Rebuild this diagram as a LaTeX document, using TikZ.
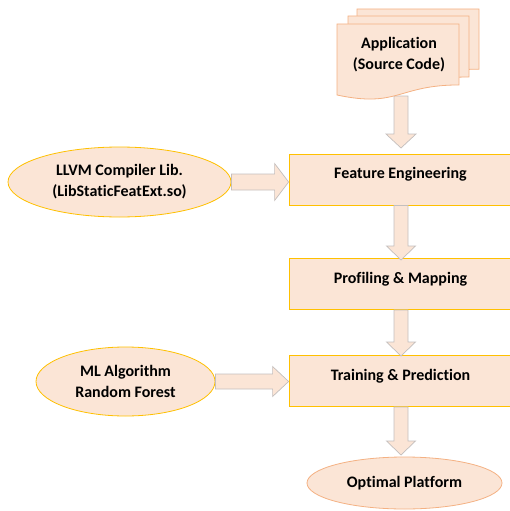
\documentclass[tikz,border=0pt]{standalone}
\usepackage{fontspec}
\setmainfont[Ligatures=NoCommon]{Carlito}
\usetikzlibrary{calc,shapes.geometric}

\definecolor{peach}{HTML}{FBE5D6}
\definecolor{gold}{HTML}{FFC000}
\definecolor{coral}{HTML}{F4B183}
\definecolor{arrowedge}{HTML}{C4BFBD}

% vertical block arrow: from, to, shaft half width, head half width, head length, gap before target
\newcommand\vblk[6]{%
  \path[blk] let \p1=(#1), \p2=(#2) in
    (\x2-#3,\y1) -- (\x2+#3,\y1) -- (\x2+#3,\y2+#6+#5) -- (\x2+#4,\y2+#6+#5)
    -- (\x2,\y2+#6) -- (\x2-#4,\y2+#6+#5) -- (\x2-#3,\y2+#6+#5) -- cycle;}
% horizontal block arrow: from, to, shaft half width, head half width, head length
\newcommand\hblk[5]{%
  \path[blk] let \p1=(#1), \p2=(#2) in
    (\x1,\y1+#3) -- (\x2-#5,\y1+#3) -- (\x2-#5,\y1+#4) -- (\x2,\y1)
    -- (\x2-#5,\y1-#4) -- (\x2-#5,\y1-#3) -- (\x1,\y1-#3) -- cycle;}
% document sheet with wavy bottom: left, top, width, height
\newcommand\docsheet[4]{%
  \path[sheet] (#1,#2) -- ++(#3,0) -- ++(0,0.802*#4)
    .. controls ({#1+0.5*#3},{#2+0.802*#4}) and ({#1+0.5*#3},{#2+1.1075*#4}) ..
    (#1,{#2+0.934*#4}) -- cycle;}

\begin{document}
\begin{tikzpicture}[x=1pt,y=-1pt,
  every node/.style={font=\fontsize{16}{21}\selectfont\bfseries, text=black},
  boxst/.style={rectangle, draw=gold, line width=0.8pt, fill=peach,
                minimum width=223pt, minimum height=51pt, inner sep=0pt},
  ovalgold/.style={ellipse, draw=gold, line width=0.8pt, fill=peach, inner sep=0pt},
  ovalcoral/.style={ellipse, draw=coral, line width=0.8pt, fill=peach, inner sep=0pt},
  lbl/.style={align=center, inner sep=0pt},
  blk/.style={draw=arrowedge, fill=peach, line width=0.7pt, line join=miter},
  sheet/.style={draw=coral, fill=peach, line width=0.8pt}]
\useasboundingbox (0,0) rectangle (510,511);
\begin{scope}
\clip (0,0) rectangle (510,511);

% main column
\node[boxst] (fe) at (400.5,179.5) {};
\node[boxst] (pm) at (400.5,284) {};
\node[boxst] (tp) at (400.5,381) {};
\node[ovalcoral, minimum width=195pt, minimum height=52pt] (op) at (404.5,483) {};

% side inputs
\node[ovalgold, minimum width=223pt, minimum height=70pt] (llvm) at (119.5,182) {};
\node[ovalgold, minimum width=179pt, minimum height=69pt] (ml) at (125.5,381.5) {};

% input documents
\coordinate (appbot) at (401,96);
\coordinate (fetop) at (401,153);
\coordinate (pmtop) at (401,260);
\coordinate (tptop) at (401,356);
\coordinate (optop) at (401,457);

% connectors
\vblk{appbot}{fetop}{7pt}{15pt}{14pt}{5pt}
\vblk{fe.south}{pmtop}{7pt}{14.5pt}{14pt}{0pt}
\vblk{pm.south}{tptop}{7pt}{14.5pt}{14pt}{0pt}
\vblk{tp.south}{optop}{7pt}{14.5pt}{14pt}{2pt}
\hblk{llvm.east}{fe.west}{8pt}{18.5pt}{14pt}
\hblk{ml.east}{tp.west}{7.5pt}{15pt}{16pt}

% stacked source documents
\docsheet{357}{9}{122}{75}
\docsheet{348}{16}{121}{76}
\docsheet{337}{24}{122}{76}

% labels
\node[lbl] (appt) at (399,54.5) {Application\\(Source Code)};
\node[lbl] (fet) at ([yshift=5pt]fe.center) {Feature Engineering};
\node[lbl] (pmt) at ([yshift=5pt]pm.center) {Profiling \& Mapping};
\node[lbl] (tpt) at ([yshift=5pt]tp.center) {Training \& Prediction};
\node[lbl] (opt) at (op.center) {Optimal Platform};
\node[lbl] (llvmt) at (llvm.center) {LLVM Compiler Lib.\\(LibStaticFeatExt.so)};
\node[lbl] (mlt) at (ml.center) {ML Algorithm\\Random Forest};
\end{scope}
\end{tikzpicture}
\end{document}
